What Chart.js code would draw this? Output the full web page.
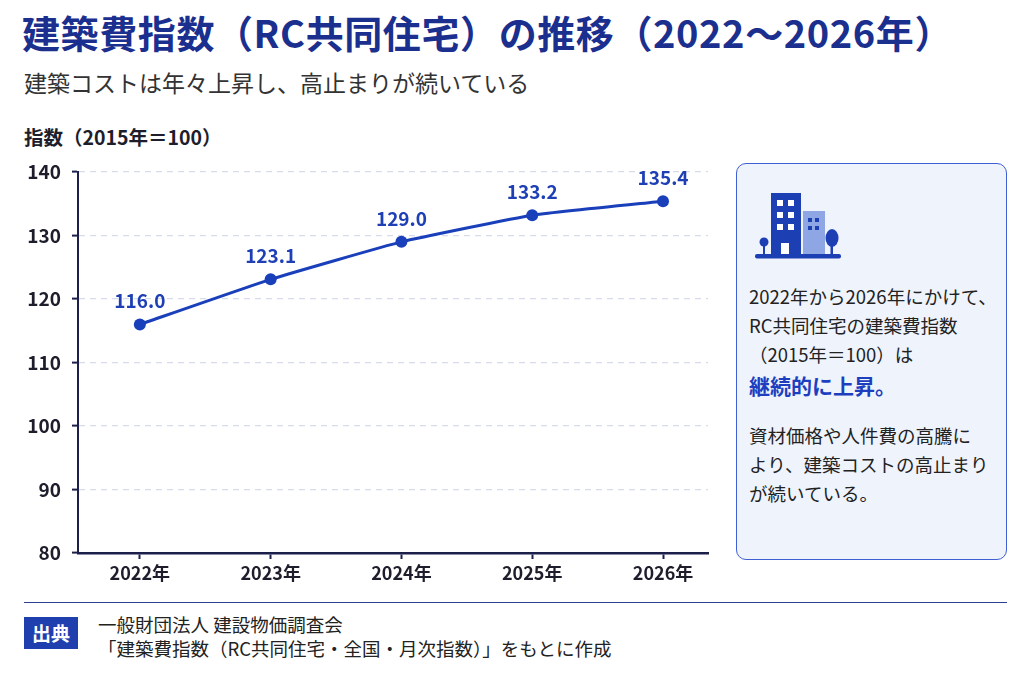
<!DOCTYPE html>
<html lang="ja">
<head>
<meta charset="utf-8">
<script src="https://cdn.jsdelivr.net/npm/chart.js@4"></script>
<style>
  html, body { margin: 0; padding: 0; background: #fff; }
  body { width: 1024px; height: 683px; position: relative; overflow: hidden;
    font-family: "Noto Sans CJK JP", "Noto Sans", sans-serif; color: #222; }
  .title { position: absolute; left: 22px; top: 4px; font-size: 38px; font-weight: 700;
    color: #1b2f8e; white-space: nowrap; letter-spacing: 0.6px; }
  .subtitle { position: absolute; left: 24px; top: 65px; font-size: 23px; color: #333; white-space: nowrap; }
  .ytitle { position: absolute; left: 24px; top: 122px; font-size: 19.5px; font-weight: 700; color: #1d1d2b; white-space: nowrap; }
  #wrap { position: absolute; left: 0; top: 120px; width: 730px; height: 470px; }
  .box { position: absolute; left: 736px; top: 163px; width: 271px; height: 397px;
    border: 1.5px solid #3f5fd4; border-radius: 10px; background: #eff3fc; box-sizing: border-box; }
  .box svg { position: absolute; left: 18px; top: 26px; }
  .box .txt { position: absolute; left: 12px; top: 118px; font-size: 18.5px; line-height: 29px; color: #222; white-space: nowrap; }
  .box .em { color: #1d3fbf; font-weight: 700; font-size: 21px; line-height: 33px; }
  .box .gap { height: 19px; }
  .rule { position: absolute; left: 24px; top: 602px; width: 983px; height: 0; border-top: 1.5px solid #2c3f94; }
  .src { position: absolute; left: 24px; top: 617px; width: 54px; height: 32px; background: #1f3fae;
    color: #fff; font-weight: 700; font-size: 19px; line-height: 32px; text-align: center; }
  .srctxt { position: absolute; left: 98px; top: 613px; font-size: 18.5px; line-height: 23.5px; color: #222; white-space: nowrap; }
</style>
</head>
<body>
<div class="title">建築費指数（RC共同住宅）の推移（2022〜2026年）</div>
<div class="subtitle">建築コストは年々上昇し、高止まりが続いている</div>
<div class="ytitle">指数（2015年＝100）</div>
<div id="wrap"><canvas id="chart"></canvas></div>

<div class="box">
  <svg width="90" height="72" viewBox="0 0 90 72">
    <rect x="48" y="21" width="22" height="44" fill="#8ea7e4"/>
    <rect x="53" y="28" width="4" height="4" fill="#1d3fb4"/>
    <rect x="60" y="28" width="4" height="4" fill="#1d3fb4"/>
    <rect x="53" y="36" width="4" height="4" fill="#1d3fb4"/>
    <rect x="60" y="36" width="4" height="4" fill="#1d3fb4"/>
    <rect x="55" y="54" width="6" height="11" fill="#8ea7e4"/>
    <rect x="16" y="3" width="30" height="62" fill="#1d3fb4"/>
    <rect x="22" y="10" width="6" height="6" fill="#fff"/>
    <rect x="33" y="10" width="6" height="6" fill="#fff"/>
    <rect x="22" y="22" width="6" height="6" fill="#fff"/>
    <rect x="33" y="22" width="6" height="6" fill="#fff"/>
    <rect x="22" y="34" width="6" height="6" fill="#fff"/>
    <rect x="33" y="34" width="6" height="6" fill="#fff"/>
    <rect x="26" y="53" width="8" height="12" fill="#fff"/>
    <circle cx="9" cy="52" r="4.5" fill="#1d3fb4"/>
    <rect x="8" y="54" width="2" height="11" fill="#1d3fb4"/>
    <ellipse cx="77" cy="48" rx="6.5" ry="9" fill="#1d3fb4"/>
    <rect x="75.5" y="54" width="2.5" height="11" fill="#1d3fb4"/>
    <rect x="0" y="64" width="86" height="4.5" rx="2" fill="#1d3fb4"/>
  </svg>
  <div class="txt">
    2022年から2026年にかけて、<br>
    RC共同住宅の建築費指数<br>
    （2015年＝100）は<br>
    <div class="em">継続的に上昇。</div>
    <div class="gap"></div>
    資材価格や人件費の高騰に<br>
    より、建築コストの高止まり<br>
    が続いている。
  </div>
</div>

<div class="rule"></div>
<div class="src">出典</div>
<div class="srctxt">一般財団法人 建設物価調査会<br>「建築費指数（RC共同住宅・全国・月次指数）」をもとに作成</div>

<script>
// data
var years = [2022, 2023, 2024, 2025, 2026];
var indexValues = [116.0, 123.1, 129.0, 133.2, 135.4];
var yTicks = [80, 90, 100, 110, 120, 130, 140];

var lineColor = '#1a3fba';
var axisColor = '#1b1f4a';

var pointLabels = {
  id: 'pointLabels',
  afterDatasetsDraw(chart) {
    var ctx = chart.ctx;
    var meta = chart.getDatasetMeta(0);
    ctx.save();
    ctx.font = 'bold 19px "Noto Sans CJK JP", sans-serif';
    ctx.fillStyle = '#1e40b4';
    ctx.textAlign = 'center';
    ctx.textBaseline = 'bottom';
    meta.data.forEach(function (pt, i) {
      ctx.fillText(indexValues[i].toFixed(1), pt.x, pt.y - 14);
    });
    ctx.restore();
  }
};

var points = years.map(function (y, i) { return { x: y, y: indexValues[i] }; });

new Chart(document.getElementById('chart').getContext('2d'), {
  type: 'line',
  data: {
    datasets: [{
      data: points,
      borderColor: lineColor,
      backgroundColor: lineColor,
      borderWidth: 3,
      pointRadius: 6,
      pointBorderWidth: 0,
      tension: 0.12,
      clip: false
    }]
  },
  options: {
    responsive: true,
    maintainAspectRatio: false,
    animation: false,
    layout: { padding: { top: 52, right: 22, left: 0, bottom: 0 } },
    plugins: { legend: { display: false }, tooltip: { enabled: false } },
    scales: {
      x: {
        type: 'linear',
        min: 2021.527,
        max: 2026.344,
        afterBuildTicks: function (scale) { scale.ticks = years.map(function (v) { return { value: v }; }); },
        afterFit: function (scale) { scale.height = 37; },
        ticks: {
          callback: function (v) { return v + '年'; },
          font: { family: '"Noto Sans CJK JP", sans-serif', size: 18, weight: 'bold' },
          color: '#1d1d2b',
          padding: 3,
          maxRotation: 0
        },
        grid: { drawOnChartArea: false, drawTicks: true, tickLength: 6, tickColor: axisColor, tickWidth: 2 },
        border: { color: axisColor, width: 2.5 }
      },
      y: {
        min: 80,
        max: 140,
        afterBuildTicks: function (scale) { scale.ticks = yTicks.map(function (v) { return { value: v }; }); },
        afterFit: function (scale) { scale.width = 78; },
        ticks: {
          font: { family: '"Noto Sans CJK JP", sans-serif', size: 19, weight: 'bold' },
          color: '#1d1d2b',
          padding: 11
        },
        grid: { color: '#d6dcec', lineWidth: 1.2, tickLength: 6, tickColor: axisColor, tickWidth: 2, tickBorderDash: [] },
        border: { color: axisColor, width: 2, dash: [6, 5] }
      }
    }
  },
  plugins: [pointLabels]
});
</script>
</body>
</html>
